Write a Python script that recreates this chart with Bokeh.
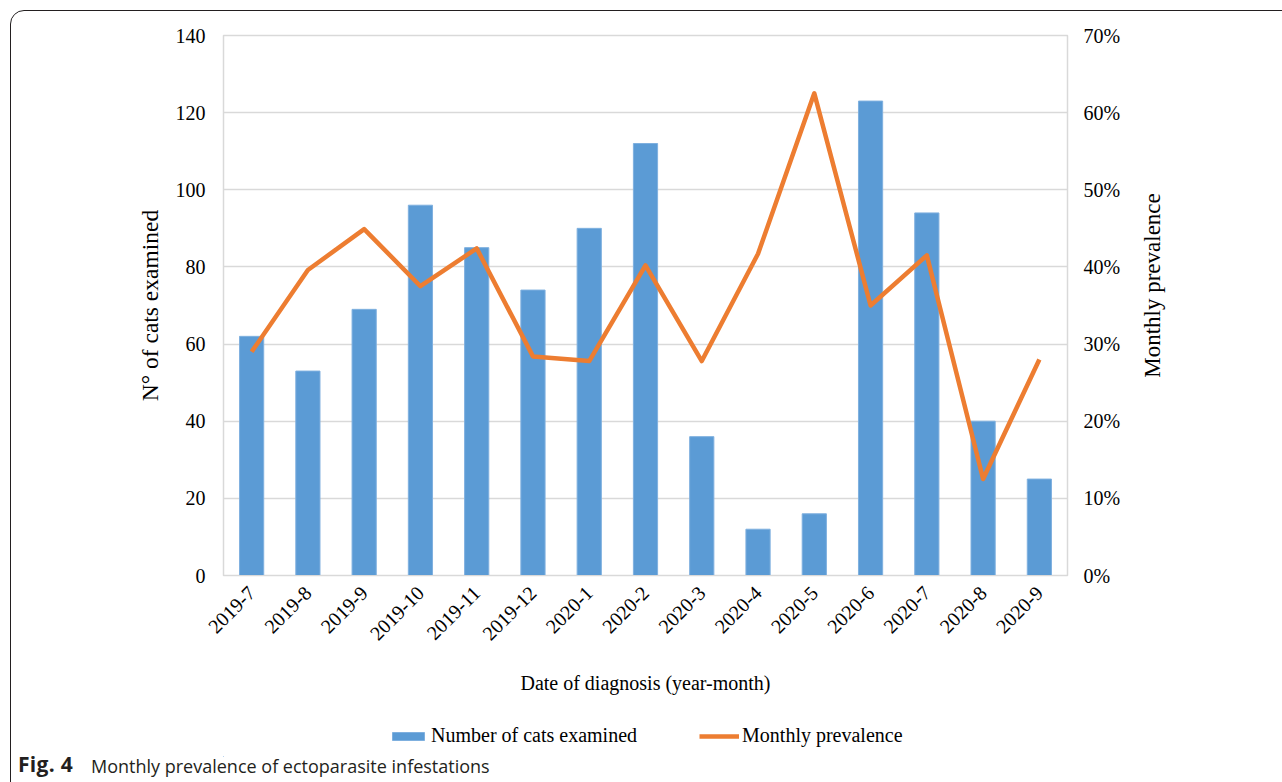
from bokeh.plotting import figure
from bokeh.layouts import column, row
from bokeh.models import (Range1d, LinearAxis, FixedTicker, NumeralTickFormatter,
                          FactorRange, Legend, LegendItem, Label, InlineStyleSheet, Div)
from bokeh.embed import file_html
from bokeh.resources import INLINE
import math

months = ["2019-7", "2019-8", "2019-9", "2019-10", "2019-11", "2019-12", "2020-1",
          "2020-2", "2020-3", "2020-4", "2020-5", "2020-6", "2020-7", "2020-8", "2020-9"]
cats_examined = [62, 53, 69, 96, 85, 74, 90, 112, 36, 12, 16, 123, 94, 40, 25]
prevalence = [0.290, 0.396, 0.449, 0.375, 0.424, 0.284, 0.278, 0.402, 0.278,
              0.417, 0.625, 0.350, 0.415, 0.125, 0.280]
left_ticks = [0, 20, 40, 60, 80, 100, 120, 140]
right_ticks = [0, 0.1, 0.2, 0.3, 0.4, 0.5, 0.6, 0.7]

SERIF = "Liberation Serif"
BLUE = "#5B9BD5"
BAR_EDGE = "#7FB0DF"
ORANGE = "#ED7D31"
GRID = "#D9D9D9"

frame_css = InlineStyleSheet(css="""
:host { position: relative; overflow: hidden; }
:host::after {
  content: ""; position: absolute; left: 10px; top: 10px;
  width: 1330px; height: 830px; box-sizing: border-box;
  border: 1.3px solid #231F20; border-radius: 14px;
  pointer-events: none; z-index: 50;
}
""")

H1 = 705
W1 = 1130
p = figure(width=W1, height=H1, x_range=FactorRange(*months),
           y_range=Range1d(0, 140), output_backend="svg", toolbar_location=None,
           min_border_left=223, min_border_right=W1 - 1067, min_border_top=35,
           min_border_bottom=H1 - 575)
p.extra_y_ranges = {"pct": Range1d(0, 0.7)}

bars = p.vbar(x=months, top=cats_examined, width=0.43, fill_color=BLUE,
              line_color=BAR_EDGE, line_width=1)
line = p.line(x=months, y=prevalence, y_range_name="pct", line_color=ORANGE,
              line_width=4.5, line_join="round")

p.outline_line_color = GRID
p.outline_line_width = 1.5
p.xgrid.grid_line_color = None
p.ygrid.grid_line_color = GRID
p.ygrid.grid_line_width = 1.5

yl = p.yaxis[0]
yl.ticker = FixedTicker(ticks=left_ticks)
yl.axis_line_color = None
yl.major_tick_line_color = None
yl.minor_tick_line_color = None
yl.major_label_standoff = 12
yl.major_label_text_font = SERIF
yl.major_label_text_font_size = "20px"
yl.major_label_text_color = "black"
yl.axis_label = "N° of cats examined"
yl.axis_label_text_font = SERIF
yl.axis_label_text_font_size = "23.5px"
yl.axis_label_text_font_style = "normal"
yl.axis_label_text_color = "black"
yl.axis_label_standoff = 10

yr = LinearAxis(y_range_name="pct", ticker=FixedTicker(ticks=right_ticks),
                formatter=NumeralTickFormatter(format="0%"))
yr.axis_line_color = None
yr.major_tick_line_color = None
yr.minor_tick_line_color = None
yr.major_label_standoff = 10
yr.major_label_text_font = SERIF
yr.major_label_text_font_size = "20px"
yr.major_label_text_color = "black"
p.add_layout(yr, "right")

xa = p.xaxis[0]
xa.axis_line_color = GRID
xa.major_tick_line_color = None
xa.minor_tick_line_color = None
xa.major_label_orientation = math.pi / 4
xa.major_label_standoff = 8
xa.major_label_text_font = SERIF
xa.major_label_text_font_size = "20px"
xa.major_label_text_color = "black"
xa.axis_label = "Date of diagnosis (year-month)"
xa.axis_label_text_font = SERIF
xa.axis_label_text_font_size = "20px"
xa.axis_label_text_font_style = "normal"
xa.axis_label_text_color = "black"
xa.axis_label_standoff = 22

# Right strip holding the secondary axis title (reads bottom-to-top)
W3 = 1282 - W1
p3 = figure(width=W3, height=H1, x_range=Range1d(0, 1), y_range=Range1d(0, 1),
            output_backend="svg", toolbar_location=None,
            x_axis_location=None, y_axis_location=None,
            min_border_left=0, min_border_right=0, min_border_top=35,
            min_border_bottom=H1 - 575)
p3.outline_line_color = None
p3.xgrid.grid_line_color = None
p3.ygrid.grid_line_color = None
p3.add_layout(Label(x=1152 - W1, y=575 - 285, x_units="screen", y_units="screen",
                    text="Monthly prevalence", angle=math.pi / 2,
                    text_align="center", text_baseline="middle",
                    text_font=SERIF, text_font_size="23px", text_color="black"))

# Legend strip
H2 = 757 - H1
p2 = figure(width=1282, height=H2, x_range=Range1d(0, 1282), y_range=Range1d(0, H2),
            output_backend="svg", toolbar_location=None,
            x_axis_location=None, y_axis_location=None,
            min_border_left=223, min_border_right=0, min_border_top=0, min_border_bottom=0)
p2.outline_line_color = None
p2.xgrid.grid_line_color = None
p2.ygrid.grid_line_color = None
leg_bar = p2.vbar(x=[-5000], top=[1], width=1, fill_color=BLUE,
                  line_color=BAR_EDGE, line_width=1)
leg_line = p2.line(x=[-5000, -4999], y=[0, 0], line_color=ORANGE, line_width=4.5)

legend = Legend(items=[LegendItem(label="Number of cats examined", renderers=[leg_bar]),
                       LegendItem(label="Monthly prevalence", renderers=[leg_line])],
                location=(388 - 223, H2 - (735 - H1) - 12), orientation="horizontal",
                glyph_width=40, glyph_height=10, label_standoff=3, spacing=62,
                padding=0, margin=0, border_line_color=None,
                background_fill_alpha=0, label_text_font=SERIF,
                label_text_font_size="20px", label_text_color="black")
p2.add_layout(legend)

caption = Div(width=1282, height=782 - 757, text=(
    '<div style="position:relative;width:1282px;height:25px;'
    'font-family:\'Open Sans\';color:#231F20;line-height:20px;">'
    '<span style="position:absolute;left:13px;top:-8px;font-weight:700;'
    'font-size:21px;letter-spacing:0.3px;">Fig. 4</span>'
    '<span style="position:absolute;left:86px;top:-6px;font-size:18px;">'
    'Monthly prevalence of ectoparasite infestations</span></div>'))

layout = column(row(p, p3, spacing=0), p2, caption, spacing=0,
                stylesheets=[frame_css])
open("out.html", "w").write(file_html(layout, INLINE))
